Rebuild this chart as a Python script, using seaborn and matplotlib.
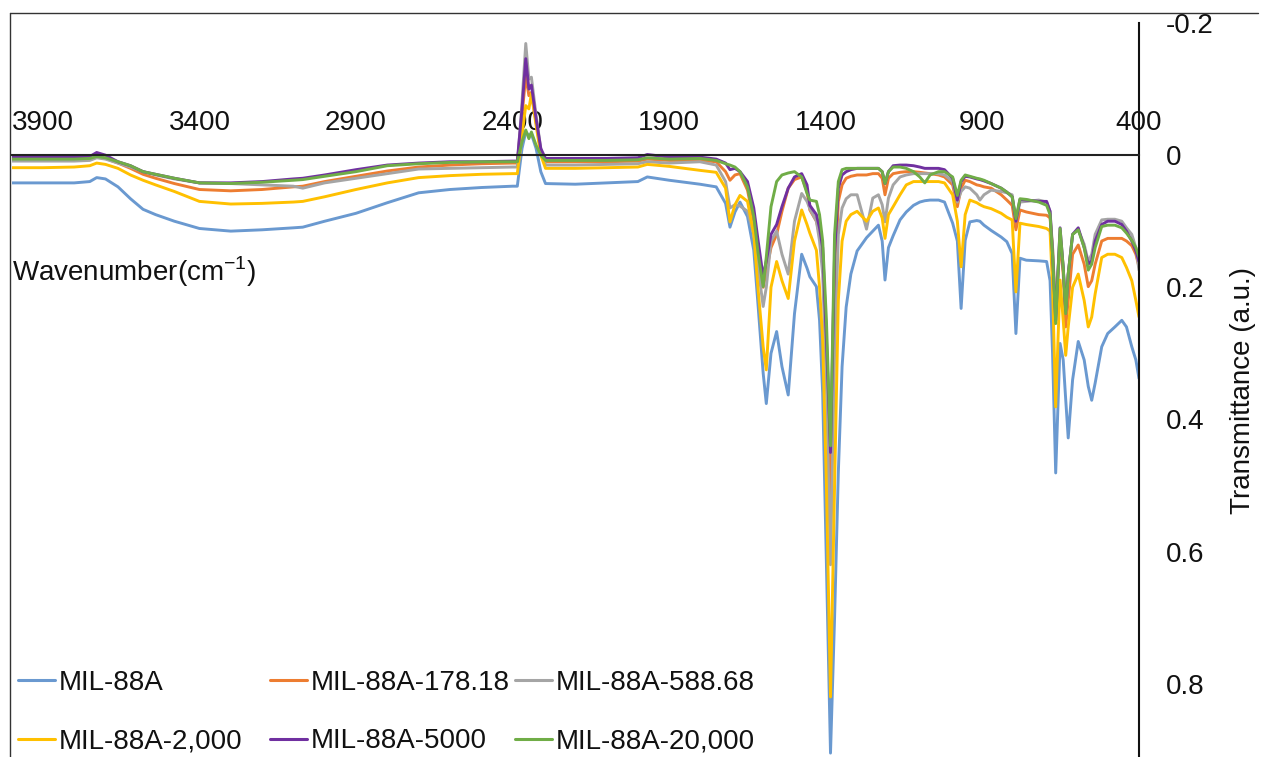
import matplotlib
matplotlib.use("Agg")
import matplotlib.pyplot as plt
from matplotlib.lines import Line2D
import seaborn as sns
import pandas as pd

# wavenumber grid (cm-1)
wavenumber = [
    4000, 3900, 3800, 3750, 3728, 3700, 3660, 3620, 3580, 3540, 3480, 3400, 3300, 3200, 3100, 3070,
    3000, 2900, 2800, 2700, 2600, 2500, 2400,
    2385, 2370, 2358, 2348, 2340, 2325, 2310, 2295,
    2200, 2100, 2000, 1970, 1900, 1802,
    1750, 1720, 1706, 1690, 1674, 1650, 1630, 1616, 1600, 1590, 1575, 1557, 1540, 1520, 1500, 1477,
    1460, 1451, 1430, 1420, 1410, 1398, 1385, 1372, 1360, 1348, 1335, 1320, 1300,
    1270, 1250, 1232, 1220, 1211, 1200, 1185, 1163, 1143, 1120, 1100, 1084, 1067, 1040, 1021, 995,
    980, 968, 955, 940, 918, 908, 895, 872, 840, 822, 805, 793, 780, 760, 720, 695,
    684, 676, 666, 652, 642, 634, 626, 612, 594, 575, 562, 551, 540, 519, 500, 477, 455, 440, 423,
    410, 400,
]

mil88a = [
    .042, .042, .042, .040, .034, .036, .048, .066, .082, .090, .100, .111, .115, .113, .110, .109,
    .100, .088, .072, .057, .052, .049, .047,
    .047, -.010, -.035, -.030, -.032, -.010, .025, .043,
    .044, .042, .040, .033, .038, .044,
    .048, .073, .109, .086, .071, .093, .144, .229, .330, .376, .300, .267, .320, .363, .240, .150,
    .171, .184, .199, .250, .360, .620, .905, .700, .480, .320, .230, .180, .145,
    .125, .115, .106, .130, .189, .140, .122, .098, .086, .076, .071, .069, .068, .068, .071, .103,
    .130, .232, .129, .101, .099, .100, .106, .114, .124, .131, .149, .270, .156, .159, .160, .161,
    .190, .300, .481, .285, .310, .370, .428, .340, .282, .310, .350, .371, .345, .290, .270, .260,
    .250, .260, .290, .310, .338,
]

mil88a_178 = [
    .007, .007, .007, .006, .003, .005, .012, .020, .029, .035, .043, .052, .054, .052, .048, .047,
    .040, .032, .024, .018, .015, .013, .012,
    .012, -.060, -.120, -.090, -.095, -.050, -.005, .010,
    .010, .010, .009, .006, .008, .008,
    .010, .025, .038, .030, .028, .053, .100, .150, .200, .175, .140, .120, .085, .050, .037, .033,
    .055, .083, .100, .120, .150, .300, .560, .200, .070, .045, .035, .032, .030,
    .030, .028, .028, .035, .060, .035, .028, .026, .025, .025, .026, .027, .028, .030, .033, .045,
    .078, .050, .038, .040, .045, .046, .048, .050, .060, .068, .076, .113, .083, .086, .090, .091,
    .095, .140, .245, .129, .180, .260, .220, .150, .136, .165, .199, .190, .165, .130, .126, .126,
    .126, .130, .137, .150, .169,
]

mil88a_588 = [
    .009, .009, .009, .008, .004, .006, .012, .018, .025, .030, .036, .042, .043, .045, .047, .050,
    .042, .035, .028, .021, .020, .019, .018,
    .018, -.080, -.169, -.115, -.118, -.060, -.010, .015,
    .015, .014, .013, .010, .012, .010,
    .015, .040, .080, .075, .077, .085, .120, .170, .229, .200, .130, .115, .150, .180, .100, .058,
    .070, .081, .100, .130, .180, .350, .620, .300, .120, .080, .066, .060, .060,
    .112, .065, .060, .075, .101, .065, .045, .033, .030, .028, .028, .028, .028, .028, .030, .040,
    .071, .055, .048, .050, .060, .068, .060, .053, .055, .057, .060, .100, .071, .070, .068, .071,
    .085, .140, .240, .120, .170, .235, .180, .120, .113, .135, .161, .150, .120, .098, .097, .097,
    .100, .110, .120, .140, .174,
]

mil88a_2000 = [
    .019, .019, .018, .016, .012, .014, .020, .030, .038, .045, .055, .070, .074, .073, .071, .070,
    .063, .052, .042, .034, .031, .029, .028,
    .028, -.030, -.075, -.070, -.093, -.045, .000, .020,
    .020, .019, .018, .014, .017, .023,
    .026, .050, .101, .075, .061, .070, .120, .204, .290, .325, .200, .161, .190, .217, .130, .083,
    .105, .118, .144, .200, .280, .500, .820, .500, .220, .130, .100, .090, .085,
    .100, .085, .080, .095, .126, .090, .078, .060, .045, .040, .040, .040, .040, .040, .042, .060,
    .100, .169, .090, .068, .072, .075, .078, .081, .088, .094, .098, .207, .103, .105, .108, .111,
    .115, .200, .381, .189, .250, .303, .260, .200, .180, .220, .260, .245, .210, .155, .150, .150,
    .155, .170, .190, .220, .245,
]

mil88a_5000 = [
    .003, .003, .003, .002, -.004, .000, .010, .016, .025, .029, .035, .042, .042, .040, .036, .035,
    .030, .022, .015, .012, .010, .010, .009,
    .009, -.070, -.146, -.100, -.106, -.055, -.010, .005,
    .005, .005, .004, -.001, .003, .003,
    .006, .012, .022, .020, .025, .040, .080, .130, .184, .160, .120, .105, .078, .050, .033, .028,
    .045, .076, .090, .110, .140, .280, .450, .150, .050, .030, .025, .022, .020,
    .020, .020, .020, .025, .043, .025, .016, .015, .015, .016, .018, .020, .020, .020, .022, .035,
    .068, .040, .032, .033, .036, .037, .039, .043, .050, .056, .063, .100, .067, .068, .070, .070,
    .085, .150, .250, .110, .170, .235, .180, .120, .110, .140, .165, .160, .130, .105, .100, .100,
    .105, .115, .130, .145, .161,
]

mil88a_20000 = [
    .006, .006, .006, .005, .002, .004, .010, .016, .025, .029, .035, .042, .043, .041, .038, .037,
    .032, .025, .016, .013, .011, .010, .010,
    .010, -.020, -.038, -.025, -.035, -.015, .000, .008,
    .008, .008, .007, .004, .006, .005,
    .008, .013, .015, .018, .025, .048, .093, .149, .199, .154, .078, .040, .030, .027, .025, .033,
    .058, .068, .070, .090, .130, .250, .440, .120, .040, .022, .020, .020, .020,
    .020, .020, .020, .025, .043, .025, .018, .018, .020, .025, .033, .042, .030, .025, .025, .033,
    .061, .038, .030, .032, .035, .036, .038, .043, .050, .056, .063, .096, .066, .067, .071, .076,
    .090, .150, .255, .111, .170, .240, .180, .120, .113, .140, .174, .165, .140, .108, .106, .106,
    .110, .118, .129, .140, .154,
]

labels = ["MIL-88A", "MIL-88A-178.18", "MIL-88A-588.68",
          "MIL-88A-2,000", "MIL-88A-5000", "MIL-88A-20,000"]
colors = ["#6A99D0", "#ED7D31", "#A5A5A5", "#FFC000", "#7030A0", "#70AD47"]
series = [mil88a, mil88a_178, mil88a_588, mil88a_2000, mil88a_5000, mil88a_20000]

y_ticks = [-0.2, 0, 0.2, 0.4, 0.6, 0.8]
y_tick_labels = ["-0.2", "0", "0.2", "0.4", "0.6", "0.8"]
x_ticks = [3900, 3400, 2900, 2400, 1900, 1400, 900, 400]

frames = []
for name, vals in zip(labels, series):
    assert len(vals) == len(wavenumber), name
    frames.append(pd.DataFrame({"wavenumber": wavenumber, "value": vals, "sample": name}))
df = pd.concat(frames, ignore_index=True)

sns.set_theme(style="white")
plt.rcParams["font.family"] = ["Liberation Sans", "DejaVu Sans"]
plt.rcParams["mathtext.fontset"] = "custom"
plt.rcParams["mathtext.rm"] = "Liberation Sans"

W, H = 1262, 757
fig = plt.figure(figsize=(W / 100, H / 100), dpi=100)
fig.patch.set_facecolor("white")

# axes placed so that 4000 -> x=11.5px, 400 -> x=1139px, -0.2 -> y=23px
ax = fig.add_axes([11.5 / W, 1 - 763 / H, (1139 - 11.5) / W, (763 - 23) / H])
sns.lineplot(data=df, x="wavenumber", y="value", hue="sample", hue_order=labels,
             palette=colors, estimator=None, sort=False, lw=2.1, legend=False, ax=ax)

ax.set_xlim(4000, 400)
ax.set_ylim(0.92, -0.2)
ax.set_xlabel("")
ax.set_ylabel("")

for side in ["left", "bottom"]:
    ax.spines[side].set_visible(False)
ax.spines["top"].set_position(("data", 0))
ax.spines["top"].set_color("#222222")
ax.spines["top"].set_linewidth(1.5)
ax.spines["right"].set_color("#111111")
ax.spines["right"].set_linewidth(1.5)
ax.spines["right"].set_bounds(0.92, -0.2)

ax.xaxis.set_ticks_position("top")
ax.set_xticks(x_ticks)
ax.set_xticklabels([str(t) for t in x_ticks])
ax.tick_params(axis="x", length=0, pad=14, labelsize=20, colors="#111111")

ax.yaxis.set_ticks_position("right")
ax.set_yticks(y_ticks)
ax.set_yticklabels(y_tick_labels)
ax.tick_params(axis="y", length=0, pad=19, labelsize=20, colors="#111111")
ax.patch.set_alpha(0)

fig.text(12 / W, 1 - 272 / H, r"Wavenumber(cm$^{-1}$)", fontsize=20, color="#111111",
         ha="left", va="center")
fig.text(1243 / W, 1 - 390 / H, "Transmittance (a.u.)", fontsize=20, color="#111111",
         rotation=90, ha="center", va="center")

# chart border (top and left edge)
fig.add_artist(Line2D([10 / W, 1258 / W], [1 - 13 / H, 1 - 13 / H], color="#333333", lw=1.0))
fig.add_artist(Line2D([10 / W, 10 / W], [1 - 13 / H, 0], color="#333333", lw=1.0))

# legend, three columns of two rows
col_x = [18, 270, 515]
for c in range(3):
    idx = [c, c + 3]
    handles = [Line2D([], [], color=colors[i], lw=2.2) for i in idx]
    leg = fig.legend(handles, [labels[i] for i in idx], loc="upper left",
                     bbox_to_anchor=(col_x[c] / W, 1 - 670 / H), frameon=False,
                     fontsize=20, handlelength=1.33, handletextpad=0.12,
                     labelspacing=1.17, borderpad=0, borderaxespad=0)
    for t in leg.get_texts():
        t.set_color("#111111")

fig.savefig("out.png", dpi=100)
